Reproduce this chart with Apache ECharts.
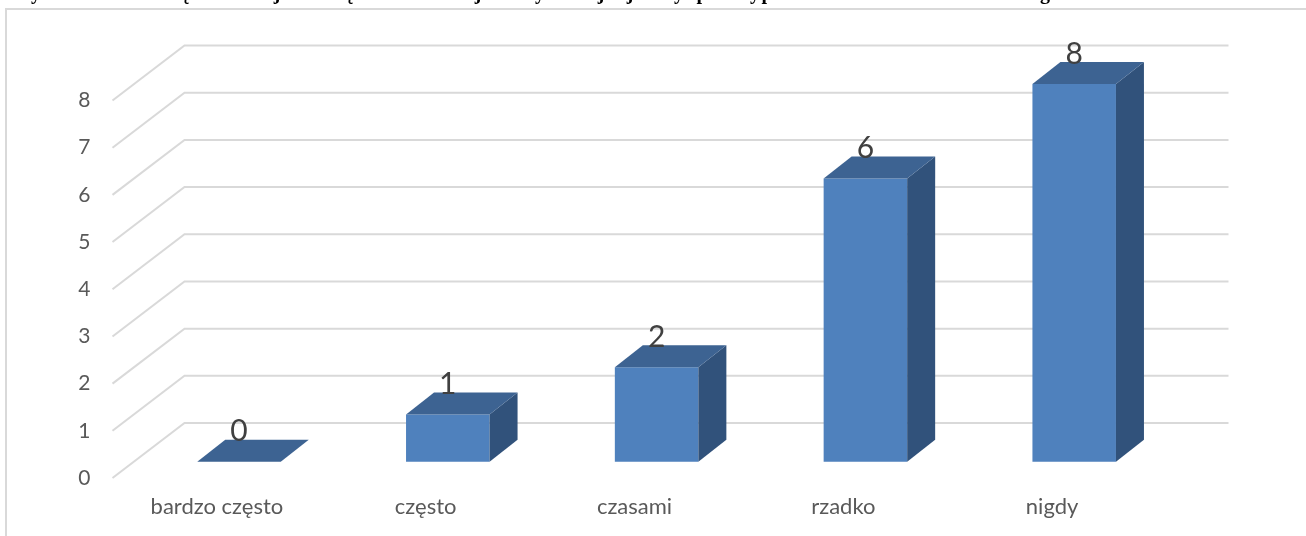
<!DOCTYPE html>
<html><head><meta charset="utf-8">
<style>html,body{margin:0;padding:0;background:#fff}#c{width:1306px;height:536px}</style>
<script src="https://cdn.jsdelivr.net/npm/echarts@6/dist/echarts.min.js"></script>
</head><body><div id="c"></div>
<script>
const categories = ['bardzo często','często','czasami','rzadko','nigdy'];
const values = [0,1,2,6,8];
const yTicks = [0,1,2,3,4,5,6,7,8];
// Only the descenders of the cropped heading are visible in the reference.
const titleGlyphs = ['y','ę','j','ę','j','y','j','j','y','p','y','p','g'];
const titleGlyphX = [36,185,277,349,478,540,601,630,679,702,755,767,1045];

const DX = 28, DY = 22;       // bar depth
const WX = 72, WY = 55;       // side wall depth
const font = 'Lato';
const chart = echarts.init(document.getElementById('c'), null, {renderer:'canvas'});

function renderWall(params, api){
  const v = api.value(0);
  const cs = params.coordSys;
  const y = api.coord([0, v])[1];
  const x0 = cs.x, x1 = cs.x + cs.width + WX;
  return {type:'polyline', shape:{points:[[x0,y],[x0+WX,y-WY],[x1,y-WY]]},
    style:{stroke:'#D9D9D9', lineWidth:2, fill:null}, silent:true};
}
function renderBar(params, api){
  const c = api.value(0), v = api.value(1);
  const top = api.coord([c, v]), base = api.coord([c, 0]);
  const w = api.size([1,0])[0] * 0.4;
  const l = top[0] - w/2, r = top[0] + w/2, t = top[1], b = base[1];
  const children = [];
  if (v > 0) {
    children.push({type:'rect', shape:{x:l,y:t,width:w,height:b-t}, style:{fill:'#4F81BD'}});
    children.push({type:'polygon', shape:{points:[[r,t],[r+DX,t-DY],[r+DX,b-DY],[r,b]]}, style:{fill:'#31527B'}});
  }
  children.push({type:'polygon', shape:{points:[[l,t],[l+DX,t-DY],[r+DX,t-DY],[r,t]]}, style:{fill:'#3D6392'}});
  children.push({type:'text', z2:10, style:{text:String(v), x:top[0], y:t-DY+7, align:'center', verticalAlign:'bottom',
    fontFamily:font, fontSize:30, fill:'#404040'}});
  return {type:'group', children};
}

chart.setOption({
  animation:false,
  backgroundColor:'#fff',
  grid:[
    {left:112.5, width:1044, top:100.5, height:377.5, show:false},
    {left:134.6, width:1044, top:84, height:377.7, show:false}
  ],
  xAxis:[
    {type:'category', gridIndex:0, data:categories, axisLine:{show:false}, axisTick:{show:false}, splitLine:{show:false},
     axisLabel:{color:'#595959', fontFamily:font, fontSize:22, margin:18, interval:0}},
    {type:'category', gridIndex:1, data:categories, show:false}
  ],
  yAxis:[
    {type:'value', gridIndex:0, min:0, max:8, interval:1, axisLine:{show:false}, axisTick:{show:false}, splitLine:{show:false},
     axisLabel:{color:'#595959', fontFamily:font, fontSize:21, margin:22}},
    {type:'value', gridIndex:1, min:0, max:8, interval:1, show:false, splitLine:{show:false}}
  ],
  graphic:[
    {type:'rect', silent:true, z:-1, shape:{x:6,y:9,width:1400,height:600}, style:{fill:'none', stroke:'#D9D9D9', lineWidth:2}},
    ...titleGlyphs.map((ch,i)=>({type:'text', silent:true, style:{text:ch, x:titleGlyphX[i], y:4,
      align:'center', verticalAlign:'bottom', fontFamily:'Liberation Serif', fontWeight:'bold', fontSize:20, fill:'#000'}}))
  ],
  series:[
    {type:'custom', xAxisIndex:0, yAxisIndex:0, renderItem:renderWall, data:yTicks.map(v=>[v]), encode:{y:0}, silent:true, z:1, clip:false},
    {type:'custom', xAxisIndex:1, yAxisIndex:1, renderItem:renderBar, data:values.map((v,i)=>[i,v]), encode:{x:0,y:1}, silent:true, z:2, clip:false}
  ]
});
</script></body></html>
